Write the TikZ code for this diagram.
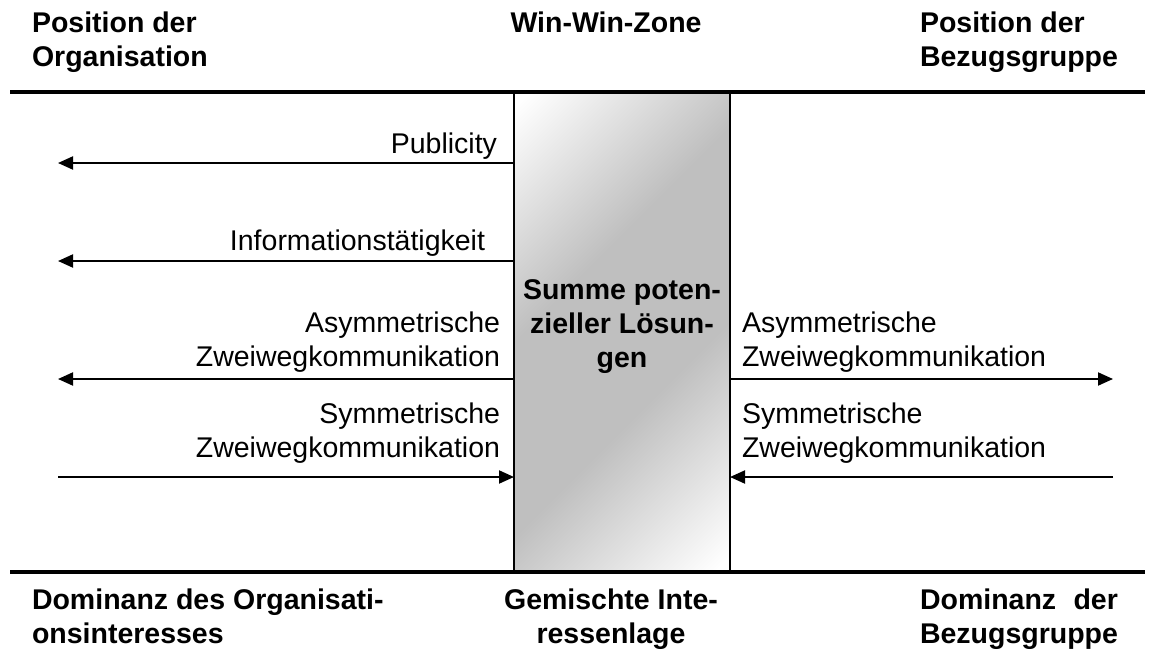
\documentclass[tikz,border=0pt]{standalone}
\usepackage{fontspec}
\setmainfont{Liberation Sans}
\usetikzlibrary{arrows.meta}

% diagonal white-grey-white fill of the middle zone
\pgfdeclarehorizontalshading{winwin}{100bp}{%
  color(0bp)=(white); color(16bp)=(white); color(40bp)=(gray!50);
  color(60bp)=(gray!50); color(84bp)=(white); color(100bp)=(white)}

\begin{document}
\begin{tikzpicture}[x=1pt,y=-1pt,
  every node/.style={inner sep=0pt,outer sep=0pt,font=\fontsize{28.5}{34}\selectfont},
  head/.style={font=\fontsize{28.5}{34}\selectfont\bfseries,align=left,anchor=base west},
  lbl/.style={align=right,anchor=base east},
  lblr/.style={align=left,anchor=base west},
  rule/.style={line width=4pt},
  arr/.style={line width=2pt,-{Triangle[length=15pt,width=13pt]}},
  zonebox/.style={draw,line width=2pt,shading=winwin,shading angle=-45}]
\useasboundingbox (0,0) rectangle (1155,650);

% headings above the upper rule (multi-line nodes sit on their last baseline)
\node[head] (orgpos) at (32,67) {Position der\\Organisation};
\node[head,align=center,anchor=base] (zonehead) at (606,33) {Win-Win-Zone};
\node[head] (grppos) at (920,67) {Position der\\Bezugsgruppe};

% middle zone
\node[zonebox,minimum width=216,minimum height=480] (zone) at (622,332) {};
\node[font=\fontsize{28.5}{34}\selectfont\bfseries,align=center,anchor=base] (sum) at (622,367)
  {Summe poten-\\zieller Lösun-\\gen};

% horizontal rules
\coordinate (ruleTL) at (10,92);
\coordinate (ruleTR) at (1145,92);
\coordinate (ruleBL) at (10,572);
\coordinate (ruleBR) at (1145,572);
\draw[rule] (ruleTL) -- (ruleTR);
\draw[rule] (ruleBL) -- (ruleBR);

% free ends of the arrows
\coordinate (pubL) at (58,163);
\coordinate (infL) at (58,261);
\coordinate (asyL) at (58,379);
\coordinate (asyR) at (1113,379);
\coordinate (symL) at (58,477);
\coordinate (symR) at (1113,477);

% arrows
\draw[arr] (zone.west |- pubL) -- (pubL);
\draw[arr] (zone.west |- infL) -- (infL);
\draw[arr] (zone.west |- asyL) -- (asyL);
\draw[arr] (zone.east |- asyR) -- (asyR);
\draw[arr] (symL) -- (zone.west |- symL);
\draw[arr] (symR) -- (zone.east |- symR);

% arrow labels
\node[lbl] (pub) at (497,153) {Publicity};
\node[lbl] (inf) at (485,250) {Informationstätigkeit};
\node[lbl] (asyLt) at (500,366) {Asymmetrische\\Zweiwegkommunikation};
\node[lblr] (asyRt) at (742,366) {Asymmetrische\\Zweiwegkommunikation};
\node[lbl] (symLt) at (500,457) {Symmetrische\\Zweiwegkommunikation};
\node[lblr] (symRt) at (742,457) {Symmetrische\\Zweiwegkommunikation};

% headings below the lower rule
\node[head] (orgdom) at (32,643) {Dominanz des Organisati-\\onsinteresses};
\node[head,align=center,anchor=base] (mixed) at (611,643) {Gemischte Inte-\\ressenlage};
\node[head] (grpdom) at (920,643)
  {\setbox0\hbox{Bezugsgruppe}\makebox[\wd0][s]{Dominanz\hfill der}\\Bezugsgruppe};
\end{tikzpicture}
\end{document}
